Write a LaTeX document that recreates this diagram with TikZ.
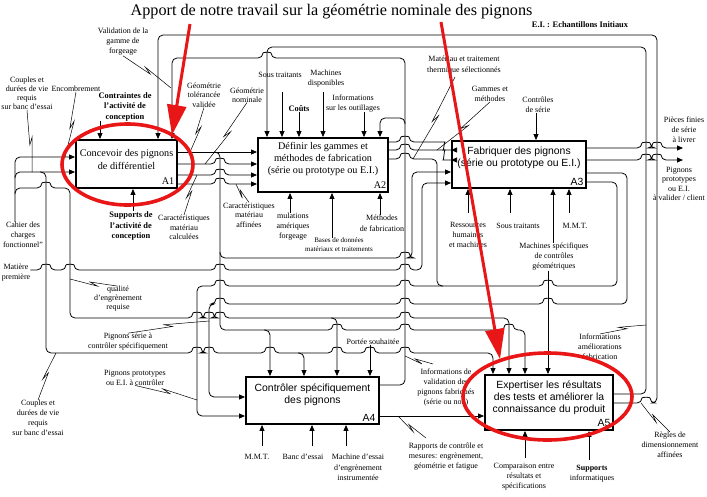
\documentclass[tikz,border=0pt]{standalone}
\usepackage{fontspec}
\setmainfont{Liberation Serif}
\setsansfont{Liberation Sans}
\usetikzlibrary{arrows.meta,calc}

\definecolor{hilite}{RGB}{232,22,22}

% hop of a horizontal line over a vertical one (rightward / leftward)
\newcommand\hb[2]{-- ({#1-4},#2) .. controls ({#1-4},{#2-6}) and ({#1+4},{#2-6}) .. ({#1+4},#2)}
\newcommand\hbl[2]{-- ({#1+4},#2) .. controls ({#1+4},{#2-6}) and ({#1-4},{#2-6}) .. ({#1-4},#2)}

% label leader with a lightning break
\newcommand\zz[2]{%
  \coordinate (zA) at ($(#1)!0.5!(#2)!4pt!(#2)$);
  \coordinate (zB) at ($(#1)!0.5!(#2)!-4pt!(#2)$);
  \coordinate (zC) at ($(zB)!3pt!90:(#2)$);
  \draw[lead] (#1) -- (zA) -- (zC) -- (#2);}

\newcommand\labfont{\fontsize{8}{10}\selectfont}

\tikzset{
  ln/.style={line width=0.8pt, rounded corners=5pt},
  ar/.style={ln, -{Triangle[length=6pt,width=5pt]}},
  lead/.style={line width=0.5pt},
  box/.style={draw, line width=1.9pt, inner sep=0pt, fill=white},
  lab/.style={font=\labfont, align=center, inner sep=0pt},
  blab/.style={font=\fontsize{8.4}{10.5}\selectfont\bfseries, align=center, inner sep=0pt},
  rtxt/.style={font=\fontsize{10.2}{13}\selectfont, align=center, inner sep=0pt},
  stxt/.style={font=\sffamily\fontsize{10.4}{12}\selectfont, align=center, inner sep=0pt},
  hl/.style={draw=hilite, line width=3.6pt},
  hlarrow/.style={draw=hilite, fill=hilite, line width=3pt, -{Triangle[length=30pt,width=19pt]}}
}

\begin{document}
\begin{tikzpicture}[x=1pt,y=-1pt]
\fill[white] (0,0) rectangle (707,496);
\useasboundingbox (0,0) rectangle (707,496);

% ---------- headings ----------
\node[font=\fontsize{16.2}{18}\selectfont, inner sep=0pt] (title) at (331.5,12) {Apport de notre travail sur la géométrie nominale des pignons};
\node[font=\fontsize{8.4}{10}\selectfont\bfseries, inner sep=0pt] (ei) at (580,25) {E.I. : Echantillons Initiaux};

% ---------- activity boxes ----------
\node[box, minimum width=101pt, minimum height=48pt] (A1) at (126.5,164) {};
\node[box, minimum width=130pt, minimum height=54pt] (A2) at (323,165) {};
\node[box, minimum width=134pt, minimum height=47pt] (A3) at (519,164.5) {};
\node[box, minimum width=133pt, minimum height=47pt] (A4) at (312.5,400.5) {};
\node[box, minimum width=128pt, minimum height=55pt] (A5) at (549,402.5) {};

\node[rtxt] (A1t) at (126.5,159.5) {Concevoir des pignons\\de différentiel};
\node[rtxt, font=\fontsize{10.2}{12}\selectfont] (A2t) at (323,159) {Définir les gammes et\\méthodes de fabrication\\(série ou prototype ou E.I.)};
\node[stxt] (A3t) at (519,158) {Fabriquer des pignons\\(série ou prototype ou E.I.)};
\node[stxt] (A4t) at (312.5,395) {Contrôler spécifiquement\\des pignons};
\node[stxt] (A5t) at (549,398) {Expertiser les résultats\\des tests et améliorer la\\connaissance du produit};

\node[rtxt] (A1n) at (168,181.5) {A1};
\node[rtxt] (A2n) at (380,185) {A2};
\node[stxt] (A3n) at (577,181.5) {A3};
\node[stxt] (A4n) at (369,418) {A4};
\node[stxt] (A5n) at (604,422.5) {A5};

% ---------- labels ----------
\node[lab, font=\fontsize{8}{9}\selectfont] (ctop) at (27,93.5) {Couples et\\durées de vie\\requis\\sur banc d'essai};
\node[lab] (enc) at (76,89) {Encombrement};
\node[blab] (cons) at (125,106.5) {Contraintes de\\l'activité de\\conception};
\node[lab] (val) at (123,42) {Validation de la\\gamme de\\forgeage};
\node[lab, font=\fontsize{8}{9.5}\selectfont] (geot) at (204,95) {Géométrie\\tolérancée\\validée};
\node[lab, font=\fontsize{8}{9}\selectfont] (geon) at (247,95) {Géométrie\\nominale};
\node[lab] (st2) at (280,75) {Sous traitants};
\node[lab] (mdisp) at (326,79) {Machines\\disponibles};
\node[blab] (couts) at (299,109) {Coûts};
\node[lab, font=\fontsize{8}{9.5}\selectfont] (outil) at (353,103.5) {Informations\\sur les outillages};
\node[lab, font=\fontsize{8}{11}\selectfont] (mat) at (464,65.5) {Matériau et traitement\\thermique sélectionnés};
\node[lab] (gam) at (490,94) {Gammes et\\méthodes};
\node[lab] (ctrl) at (538,105) {Contrôles\\de série};
\node[lab] (pf) at (684,130) {Pièces finies\\de série\\à livrer};
\node[lab, font=\fontsize{8}{9.3}\selectfont] (pp) at (679,184) {Pignons\\prototypes\\ou E.I.\\à valider / client};
\node[blab] (sup) at (131,226) {Supports de\\l'activité de\\conception};
\node[lab, font=\fontsize{8}{9.5}\selectfont] (carc) at (184,227.5) {Caractéristiques\\matériau\\calculées};
\node[lab, font=\fontsize{8}{9.5}\selectfont] (cara) at (249,215) {Caractéristiques\\matériau\\affinées};
\node[lab] (simu) at (293,227) {mulations\\amériques\\forgeage};
\node[lab, font=\fontsize{7}{8.5}\selectfont] (bdd) at (339,244.5) {Bases de données\\matériaux et traitements};
\node[lab, font=\fontsize{8}{11}\selectfont] (meth) at (382,223.5) {Méthodes\\de fabrication};
\node[lab] (res) at (468,235) {Ressources\\humaines\\et machines};
\node[lab] (st3) at (518,226) {Sous traitants};
\node[lab] (mmt3) at (575,226) {M.M.T.};
\node[lab] (mspe) at (554,257) {Machines spécifiques\\de contrôles\\géométriques};
\node[lab] (cdc) at (23,235) {Cahier des\\charges\\fonctionnel”};
\node[lab] (mp) at (16,273) {Matière\\première};
\node[lab, font=\fontsize{8}{9}\selectfont] (qual) at (118,299) {qualité\\d'engrènement\\requise};
\node[lab] (pser) at (128,342) {Pignons série à\\contrôler spécifiquement};
\node[lab] (ppro) at (135,377.5) {Pignons prototypes\\ou E.I. à contrôler};
\node[lab] (cbot) at (38,418) {Couples et\\durées de vie\\requis\\sur banc d'essai};
\node[lab] (portee) at (373,342) {Portée souhaitée};
\node[lab] (ival) at (446,387.5) {Informations de\\validation des\\pignons fabriqués\\(série ou non)};
\node[lab] (rap) at (446,457) {Rapports de contrôle et\\mesures: engrènement,\\géométrie et fatigue};
\node[lab] (mmt4) at (257,457) {M.M.T.};
\node[lab] (banc) at (303,457) {Banc d'essai};
\node[lab, font=\fontsize{8}{10.5}\selectfont] (messai) at (358,467.5) {Machine d'essai\\d'engrènement\\instrumentée};
\node[lab] (comp) at (524,477) {Comparaison entre\\résultats et\\spécifications};
\node[lab] (supi) at (592,474) {\textbf{Supports}\\informatiques};
\node[lab] (iam) at (600,347) {Informations\\améliorations\\fabrication};
\node[lab] (regl) at (670,445) {Règles de\\dimensionnement\\affinées};

% free ends of the outgoing arrows
\coordinate (pfin) at (683,148);
\coordinate (ppin) at (683,160);

% ---------- cahier des charges and its branches ----------
\draw[ar] (cdc.north -| 15,0) -- (15,157) -- (A1.west |- 0,157);
\draw[ar] (15,178) -- (15,172) -- (A1.west |- 0,172);
\draw[ar] (15,194) -- (15,188) \hb{46}{188} -- (70,188) -- (70,318) \hb{197}{318} \hb{209}{318} \hb{220}{318} \hb{405}{318} -- (509,318) -- (509,0 |- A5.north);
\draw[ar] (331,318) -- (337,318) -- (337,0 |- A4.north);
\draw[ar] (40,172) -- (46,172) -- (46,353) \hb{197}{353} \hb{209}{353} \hb{270}{353} \hb{337}{353} \hb{370}{353} \hb{405}{353} -- (493,353) -- (493,0 |- A5.north);
\draw[ar] (298,353) -- (304,353) -- (304,0 |- A4.north);

% ---------- raw material ----------
\draw[ar] (mp.east |- 0,270) \hb{46}{270} \hb{70}{270} \hb{220}{270} \hb{405}{270} -- (422,270) -- (422,183) -- (A3.west |- 0,183);

% ---------- A1 outputs ----------
\draw[ar] (A1.east |- 0,152) -- (A2.west |- 0,152);
\draw[ar] (A1.east |- 0,164) \hb{220}{164} -- (A2.west |- 0,164);
\draw[ar] (A1.east |- 0,175) \hb{220}{175} -- (A2.west |- 0,175);
\draw[ar] (A1.east |- 0,184) \hb{220}{184} -- (A2.west |- 0,184);
\draw[ar] (214,152) -- (220,152) -- (220,330) \hb{337}{330} \hb{405}{330} \hb{509}{330} -- (525,330) -- (525,0 |- A5.north);
\draw[ar] (264,330) -- (270,330) -- (270,0 |- A4.north);
\draw[ar] (220,252) -- (220,258) \hb{405}{258} -- (412,258) -- (412,172) -- (A3.west |- 0,172);

% ---------- A2 outputs ----------
\draw[ar] (A2.east |- 0,142) \hb{405}{142} -- (440,142) .. controls (444,142) and (444,150) .. (448,150) -- (A3.west |- 0,150);
\draw[ar] (A2.east |- 0,150) \hb{405}{150} -- (440,150) .. controls (444,150) and (444,160) .. (448,160) -- (A3.west |- 0,160);
\draw[ln] (A2.east |- 0,159) \hb{405}{159} -- (437,159) -- (437,286) -- (443,286);

% ---------- A3 outputs ----------
\draw[ar] (A3.east |- 0,148) \hb{646}{148} \hb{657}{148} -- (pfin);
\draw[ar] (A3.east |- 0,160) \hb{646}{160} \hb{657}{160} -- (ppin);
\draw[ar] (A3.east |- 0,173) -- (627,173) -- (627,304) \hbl{548}{304} \hbl{405}{304} \hbl{220}{304} -- (209,304) -- (209,397) -- (A4.west |- 0,397);
\draw[ar] (A3.east |- 0,182) -- (617,182) -- (617,286) \hbl{548}{286} \hbl{405}{286} \hbl{220}{286} -- (197,286) -- (197,416) -- (A4.west |- 0,416);

% ---------- A4 outputs ----------
\draw[ar] (A4.east |- 0,416) -- (A5.west |- 0,416);
\draw[ar] (A4.east |- 0,385) -- (405,385) -- (405,58) \hbl{267}{58} -- (172,58) -- (172,0 |- A1.north);
\draw[ar] (405,124) -- (405,118) -- (380,118) -- (380,0 |- A2.north);

% ---------- A5 feedback ----------
\draw[ar] (A5.east |- 0,394) -- (646,394) -- (646,47) -- (267,47) -- (267,0 |- A2.north);
\draw[ar] (A5.east |- 0,403) \hb{646}{403} -- (657,403) -- (657,35) -- (158,35) -- (158,0 |- A1.north);

% ---------- controls and mechanisms ----------
\draw[ar] (cons.south -| 100,0) -- (100,0 |- A1.north);
\draw[ar] (sup.north -| 133,0) -- (133,0 |- A1.south);
\draw[ar] (282,92) -- (282,0 |- A2.north);
\draw[ar] (couts.south -| 299,0) -- (299,0 |- A2.north);
\draw[ar] (323,92) -- (323,0 |- A2.north);
\draw[ar] (outil.south -| 364,0) -- (364,0 |- A2.north);
\draw[ar] (simu.north -| 290,0) -- (290,0 |- A2.south);
\draw[ar] (bdd.north -| 332,0) -- (332,0 |- A2.south);
\draw[ar] (meth.north -| 380,0) -- (380,0 |- A2.south);
\draw[ar] (ctrl.south -| 536,0) -- (536,0 |- A3.north);
\draw[ar] (468,213) -- (468,0 |- A3.south);
\draw[ar] (510,213) -- (510,0 |- A3.south);
\draw[ar] (mspe.north -| 553,0) -- (553,0 |- A3.south);
\draw[ar] (569,213) -- (569,0 |- A3.south);
\draw[ar] (mspe.south -| 548,0) -- (548,0 |- A5.north);
\draw[ar] (portee.south -| 370,0) -- (370,0 |- A4.north);
\draw[ar] (262,446) -- (262,0 |- A4.south);
\draw[ar] (312,446) -- (312,0 |- A4.south);
\draw[ar] (346,446) -- (346,0 |- A4.south);
\draw[ar] (525,458) -- (525,0 |- A5.south);
\draw[ar] (589,460) -- (589,0 |- A5.south);

% ---------- leaders ----------
\zz{ctop.south}{32,172}
\zz{enc.south}{65,157}
\zz{val.south}{171,88}
\zz{geot.south}{190,152}
\zz{geon.south}{205,164}
\zz{carc.north}{197,175}
\zz{cara.north}{236,184}
\zz{455,77}{413,159}
\zz{gam.south}{437,150}
\zz{qual.north}{70,279}
\zz{pser.north}{209,321}
\zz{ppro.south}{197,400}
\zz{cbot.north}{56,353}
\zz{433,364}{405,356}
\zz{426,438}{398,416}
\zz{iam.north}{646,325}
\zz{regl.north}{641,403}

% ---------- highlights ----------
\draw[hl] (127.5,164.5) ellipse [x radius=65.5pt, y radius=40.5pt];
\draw[hl] (547.5,396.5) ellipse [x radius=84.5pt, y radius=43.5pt];
\draw[hlarrow] (190,24) -- (172,135);
\draw[hlarrow] (441,22) -- (500,359);
\end{tikzpicture}
\end{document}
